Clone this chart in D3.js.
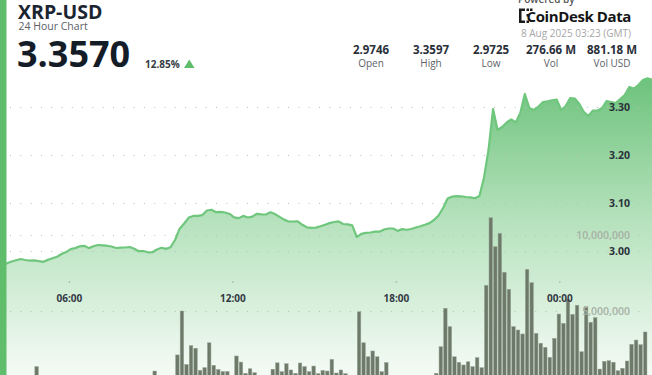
<!DOCTYPE html>
<html>
<head>
<meta charset="utf-8">
<script src="https://cdn.jsdelivr.net/npm/d3@7"></script>
<style>
  body { margin: 0; background: #fff; overflow: hidden; }
  svg { display: block; font-family: "Open Sans", "Noto Sans", sans-serif; }
</style>
</head>
<body>
<div id="chart"></div>
<script>
// 24h window, 10 minute steps
var startTime = new Date(Date.UTC(2025, 7, 7, 3, 23));
var endTime = new Date(Date.UTC(2025, 7, 8, 3, 23));
var stepMinutes = 10;

// price every 10 minutes from start (145 points)
var priceValues = [
  2.9746, 2.9740, 2.9744, 2.9781, 2.9808, 2.9833, 2.9813, 2.9800, 2.9806, 2.9788,
  2.9775, 2.9815, 2.9848, 2.9881, 2.9938, 2.9977, 3.0038, 3.0060, 3.0098, 3.0108,
  3.0060, 3.0098, 3.0125, 3.0119, 3.0110, 3.0094, 3.0063, 3.0071, 3.0073, 3.0083,
  3.0046, 2.9996, 3.0000, 2.9973, 2.9975, 3.0031, 3.0067, 3.0044, 3.0077, 3.0235,
  3.0465, 3.0573, 3.0696, 3.0731, 3.0733, 3.0748, 3.0844, 3.0860, 3.0808, 3.0815,
  3.0802, 3.0771, 3.0700, 3.0685, 3.0731, 3.0698, 3.0717, 3.0775, 3.0763, 3.0760,
  3.0806, 3.0769, 3.0710, 3.0654, 3.0615, 3.0615, 3.0619, 3.0546, 3.0494, 3.0481,
  3.0488, 3.0517, 3.0548, 3.0581, 3.0604, 3.0617, 3.0563, 3.0554, 3.0533, 3.0292,
  3.0356, 3.0379, 3.0385, 3.0402, 3.0402, 3.0448, 3.0469, 3.0469, 3.0419, 3.0456,
  3.0442, 3.0458, 3.0490, 3.0515, 3.0546, 3.0581, 3.0646, 3.0740, 3.0896, 3.1094,
  3.1133, 3.1142, 3.1140, 3.1125, 3.1117, 3.1098, 3.1146, 3.1521, 3.2104, 3.2958,
  3.2521, 3.2583, 3.2677, 3.2744, 3.2677, 3.2875, 3.3271, 3.2979, 3.2938, 3.3010,
  3.3104, 3.3119, 3.3140, 3.3156, 3.2938, 3.3021, 3.3188, 3.3177, 3.3063, 3.2896,
  3.2813, 3.2927, 3.2923, 3.2979, 3.3125, 3.3104, 3.3083, 3.3167, 3.3250, 3.3417,
  3.3385, 3.3458, 3.3563, 3.3597, 3.3570
];

// volume per 10 minute bar, millions of XRP (144 bars)
var volumeMillions = [
  0.45, 0.38, 0.52, 0.41, 0.35, 0.48, 0.55, 0.62, 1.34, 0.58,
  0.44, 0.39, 0.47, 0.36, 0.42, 0.51, 0.46, 0.33, 0.40, 0.37,
  0.43, 0.35, 0.30, 0.38, 0.45, 0.41, 0.36, 0.32, 0.39, 0.44,
  0.50, 0.57, 0.48, 0.63, 1.05, 0.66, 0.58, 0.71, 0.74, 2.11,
  5.00, 1.48, 2.72, 2.55, 1.10, 1.27, 2.91, 1.43, 1.15, 1.02,
  1.02, 0.72, 2.04, 1.64, 0.90, 1.20, 0.94, 0.70, 0.66, 0.74,
  1.17, 1.59, 1.01, 1.53, 1.12, 0.90, 1.58, 1.34, 1.01, 1.38,
  0.88, 1.09, 1.05, 1.82, 0.92, 1.12, 0.88, 0.74, 0.68, 4.95,
  2.91, 1.99, 2.37, 1.99, 1.01, 1.61, 0.72, 0.65, 0.58, 0.62,
  0.55, 0.60, 0.52, 0.66, 0.70, 0.75, 0.90, 2.65, 5.18, 3.97,
  1.99, 1.62, 1.45, 1.66, 1.34, 1.93, 1.27, 6.69, 11.14, 9.23,
  10.11, 7.55, 6.43, 3.97, 3.75, 3.49, 7.74, 6.86, 3.53, 2.88,
  2.61, 1.95, 3.20, 4.80, 4.19, 5.77, 4.78, 5.38, 2.32, 5.28,
  4.26, 4.56, 1.18, 1.69, 1.73, 1.63, 1.07, 1.23, 1.71, 2.81,
  3.09, 2.78, 3.62, 0.30
];

var priceTicks = [3.00, 3.10, 3.20, 3.30];
var volumeTicks = [5, 10];

var statValues = ["2.9746", "3.3597", "2.9725", "276.66 M", "881.18 M"];
var statLabels = ["Open", "High", "Low", "Vol", "Vol USD"];

var width = 652, height = 375;

var svg = d3.select("#chart").append("svg")
  .attr("width", width)
  .attr("height", height);

var timeAt = function(i){
  return new Date(startTime.getTime() + i * stepMinutes * 60000);
};

var x = d3.scaleTime().domain([startTime, endTime]).range([-2, 652]);
var yPrice = d3.scaleLinear().domain([3.0, 3.3]).range([251, 107]);
var yVol = d3.scaleLinear().domain([0, 10]).range([387, 235]);

var defs = svg.append("defs");
var grad = defs.append("linearGradient")
  .attr("id", "areaGrad")
  .attr("gradientUnits", "userSpaceOnUse")
  .attr("x1", 0).attr("x2", 0)
  .attr("y1", 75).attr("y2", 400);
grad.append("stop").attr("offset", 0).attr("stop-color", "#6cc27b");
grad.append("stop").attr("offset", 0.45).attr("stop-color", "#b6e2bd");
grad.append("stop").attr("offset", 1).attr("stop-color", "#ffffff");

// price area + line
var pricePoints = priceValues.map(function(v, i){ return {t: timeAt(i), v: v}; });

var area = d3.area()
  .x(function(d){ return x(d.t); })
  .y0(height + 20)
  .y1(function(d){ return yPrice(d.v); });

var line = d3.line()
  .x(function(d){ return x(d.t); })
  .y(function(d){ return yPrice(d.v); });

svg.append("path")
  .attr("d", area(pricePoints))
  .attr("fill", "url(#areaGrad)");

// dotted grid lines
var gridYs = priceTicks.map(function(p){ return yPrice(p); })
  .concat(volumeTicks.map(function(v){ return yVol(v); }));

svg.append("g").selectAll("line")
  .data(gridYs)
  .enter().append("line")
  .attr("x1", 10).attr("x2", 648)
  .attr("y1", function(d){ return Math.round(d) + 0.5; })
  .attr("y2", function(d){ return Math.round(d) + 0.5; })
  .attr("stroke", "#b9bdb9")
  .attr("stroke-width", 1)
  .attr("stroke-dasharray", "1,9.3");

// volume bars
var barW = x(timeAt(1)) - x(timeAt(0));
svg.append("g").selectAll("rect")
  .data(volumeMillions)
  .enter().append("rect")
  .attr("x", function(d, i){ return x(timeAt(i)) + 0.5; })
  .attr("width", barW - 1)
  .attr("y", function(d){ return yVol(d); })
  .attr("height", function(d){ return yVol(0) - yVol(d); })
  .attr("fill", "#6d7a6a")
  .attr("stroke", "#9aa697")
  .attr("stroke-width", 0.5);

svg.append("path")
  .attr("d", line(pricePoints))
  .attr("fill", "none")
  .attr("stroke", "#6fc67d")
  .attr("stroke-width", 2.2)
  .attr("stroke-linejoin", "round");

// price labels
svg.append("g").selectAll("text")
  .data(priceTicks)
  .enter().append("text")
  .attr("x", 630)
  .attr("y", function(d){ return yPrice(d) + 4; })
  .attr("text-anchor", "end")
  .attr("font-size", 10.5)
  .attr("font-weight", 700)
  .attr("fill", "#2b323b")
  .text(function(d){ return d3.format(".2f")(d); });

// volume labels
svg.append("g").selectAll("text")
  .data(volumeTicks)
  .enter().append("text")
  .attr("x", 630)
  .attr("y", function(d){ return yVol(d) + 4; })
  .attr("text-anchor", "end")
  .attr("font-size", 10.5)
  .attr("font-weight", 600)
  .attr("fill", "#a7b1a5")
  .text(function(d){ return d3.format(",")(d * 1e6); });

// time axis
var timeTicks = x.ticks(d3.utcHour.every(6));
var timeFmt = d3.utcFormat("%H:%M");
var tg = svg.append("g").selectAll("g")
  .data(timeTicks)
  .enter().append("g")
  .attr("transform", function(d){ return "translate(" + x(d) + ",0)"; });
tg.append("rect")
  .attr("x", -0.5).attr("y", 281.5)
  .attr("width", 1).attr("height", 1)
  .attr("fill", "#7a7f7a");
tg.append("text")
  .attr("y", 302)
  .attr("text-anchor", "middle")
  .attr("font-size", 10)
  .attr("font-weight", 700)
  .attr("fill", "#333a44")
  .text(function(d){ return timeFmt(d); });

// left accent bar
svg.append("rect")
  .attr("x", 0).attr("y", 0)
  .attr("width", 6.5).attr("height", height)
  .attr("fill", "#5fbd6c");

// header
svg.append("text")
  .attr("x", 18).attr("y", 18.5)
  .attr("font-size", 19.5).attr("font-weight", 700)
  .attr("fill", "#1b2431")
  .text("XRP-USD");
svg.append("text")
  .attr("x", 18.5).attr("y", 30)
  .attr("font-size", 10.5)
  .attr("fill", "#5a5f66")
  .text("24 Hour Chart");
svg.append("text")
  .attr("x", 17).attr("y", 67)
  .attr("font-size", 36).attr("font-weight", 700)
  .attr("fill", "#141c28")
  .text("3.3570");
svg.append("text")
  .attr("x", 145).attr("y", 67.5)
  .attr("font-size", 10).attr("font-weight", 700)
  .attr("fill", "#353b43")
  .text("12.85%");
svg.append("path")
  .attr("d", "M184,68 L194.5,68 L189.25,59.5 Z")
  .attr("fill", "#5fbd6c");

// branding
svg.append("text")
  .attr("x", 518).attr("y", 2.5)
  .attr("font-size", 10).attr("font-weight", 600)
  .attr("fill", "#555")
  .text("Powered by");
var logo = svg.append("g").attr("fill", "#1a1a1a");
logo.append("path")
  .attr("d", "M519,8.5 h6 v2.5 h-3.5 v9.5 h3.5 v2.5 h-6 Z");
logo.append("rect").attr("x", 526.5).attr("y", 8.5).attr("width", 2.5).attr("height", 2.5);
logo.append("rect").attr("x", 526.5).attr("y", 14).attr("width", 2.5).attr("height", 2.5);
logo.append("rect").attr("x", 530).attr("y", 8.5).attr("width", 2.5).attr("height", 2.5);
logo.append("rect").attr("x", 526.5).attr("y", 20.5).attr("width", 2.5).attr("height", 2.5);
svg.append("text")
  .attr("x", 631).attr("y", 21.5)
  .attr("text-anchor", "end")
  .attr("font-size", 15).attr("font-weight", 700)
  .attr("letter-spacing", -0.4)
  .attr("fill", "#151515")
  .text("CoinDesk Data");
svg.append("text")
  .attr("x", 631).attr("y", 37)
  .attr("text-anchor", "end")
  .attr("font-size", 10)
  .attr("fill", "#a6a6a6")
  .text("8 Aug 2025 03:23 (GMT)");

// stats row
var statX = [371, 431, 491, 551, 612];
var sg = svg.append("g").selectAll("g")
  .data(statValues)
  .enter().append("g")
  .attr("transform", function(d, i){ return "translate(" + statX[i] + ",0)"; });
sg.append("text")
  .attr("y", 53.5)
  .attr("text-anchor", "middle")
  .attr("font-size", 11.5).attr("font-weight", 700)
  .attr("fill", "#2a3039")
  .text(function(d){ return d; });
sg.append("text")
  .attr("y", 66.5)
  .attr("text-anchor", "middle")
  .attr("font-size", 10)
  .attr("fill", "#5d6269")
  .text(function(d, i){ return statLabels[i]; });
</script>
</body>
</html>
